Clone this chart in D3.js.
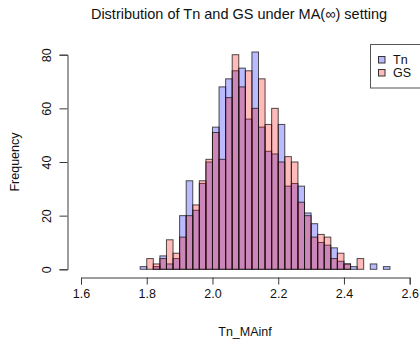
<!DOCTYPE html>
<html>
<head>
<meta charset="utf-8">
<script src="https://cdn.jsdelivr.net/npm/d3@7"></script>
<style>
  html, body { margin: 0; padding: 0; background: #fff; }
  svg { display: block; font-family: "Liberation Sans", Arial, sans-serif; }
</style>
</head>
<body>
<svg id="chart" width="420" height="345"></svg>
<script>
// Histogram bins (lower edges, width 0.02)
const binLower = [1.78, 1.80, 1.82, 1.84, 1.86, 1.88, 1.90, 1.92, 1.94, 1.96,
                  1.98, 2.00, 2.02, 2.04, 2.06, 2.08, 2.10, 2.12, 2.14, 2.16,
                  2.18, 2.20, 2.22, 2.24, 2.26, 2.28, 2.30, 2.32, 2.34, 2.36,
                  2.38, 2.40, 2.42, 2.44, 2.46, 2.48, 2.50, 2.52];
const binWidth = 0.02;

// Counts per bin
const tnCounts = [1, 0, 1, 5, 2, 4, 20, 33, 22, 32,
                  40, 53, 68, 71, 74, 75, 56, 81, 53, 44,
                  43, 54, 31, 32, 31, 21, 17, 10, 9, 8,
                  3, 2, 1, 0, 0, 2, 0, 1];
const gsCounts = [0, 4, 2, 4, 11, 6, 12, 20, 24, 33,
                  41, 51, 41, 64, 80, 68, 74, 60, 71, 54,
                  60, 40, 42, 40, 25, 20, 12, 13, 12, 4,
                  6, 2, 0, 4, 0, 0, 0, 0];

const xTicks = [1.6, 1.8, 2.0, 2.2, 2.4, 2.6];
const yTicks = [0, 20, 40, 60, 80];
const seriesNames = ["Tn", "GS"];
const seriesFill = ["rgba(0,0,255,0.27)", "rgba(255,0,0,0.27)"];

const svg = d3.select("#chart");
const x = d3.scaleLinear().domain([1.6, 2.6]).range([81, 409.7]);
const y = d3.scaleLinear().domain([0, 80]).range([269.3, 54.7]);

// Overlaid histograms: Tn first, GS on top
[tnCounts, gsCounts].forEach((counts, si) => {
  svg.append("g")
    .selectAll("rect")
    .data(binLower.map((b, i) => ({ b, c: counts[i] })))
    .join("rect")
    .attr("x", d => x(d.b))
    .attr("width", d => x(d.b + binWidth) - x(d.b))
    .attr("y", d => y(d.c))
    .attr("height", d => y(0) - y(d.c))
    .attr("fill", seriesFill[si])
    .attr("stroke", "rgba(20,20,20,0.75)")
    .attr("stroke-width", 1);
});

const axisColor = "#3a3a3a";

// X axis
const xAxis = svg.append("g").attr("transform", "translate(0,277.5)")
  .call(d3.axisBottom(x).tickValues(xTicks).tickFormat(d3.format(".1f")).tickSizeOuter(0).tickSize(7).tickPadding(5));
xAxis.select(".domain").attr("stroke", axisColor);
xAxis.selectAll(".tick line").attr("stroke", axisColor);
xAxis.selectAll("text").attr("font-size", 12.5).attr("fill", "#111")
  .attr("font-family", "Liberation Sans, Arial, sans-serif");

// Y axis
const yAxis = svg.append("g").attr("transform", "translate(67.5,0)")
  .call(d3.axisLeft(y).tickValues(yTicks).tickSizeOuter(0).tickSize(8).tickPadding(0));
yAxis.select(".domain").attr("stroke", axisColor);
yAxis.selectAll(".tick line").attr("stroke", axisColor);
yAxis.selectAll(".tick text")
  .attr("font-size", 12.5).attr("fill", "#111")
  .attr("font-family", "Liberation Sans, Arial, sans-serif")
  .attr("x", null).attr("dy", null)
  .attr("text-anchor", "middle")
  .attr("transform", "translate(-21,0) rotate(-90)")
  .attr("dy", "0.35em");

// Titles
svg.append("text")
  .attr("x", 239).attr("y", 19)
  .attr("text-anchor", "middle")
  .attr("font-size", 14.5).attr("fill", "#111")
  .text("Distribution of Tn and GS under MA(\u221E) setting");

svg.append("text")
  .attr("x", 245).attr("y", 336)
  .attr("text-anchor", "middle")
  .attr("font-size", 12.5).attr("fill", "#111")
  .text("Tn_MAinf");

svg.append("text")
  .attr("transform", "translate(19,162) rotate(-90)")
  .attr("text-anchor", "middle")
  .attr("font-size", 12.5).attr("fill", "#111")
  .text("Frequency");

// Legend
const lg = svg.append("g");
lg.append("rect")
  .attr("x", 370.5).attr("y", 44.5).attr("width", 60).attr("height", 43.5)
  .attr("fill", "#fff").attr("stroke", "#555");
seriesNames.forEach((name, i) => {
  lg.append("rect")
    .attr("x", 378.5).attr("y", 56.5 + i * 13).attr("width", 6.5).attr("height", 6.5)
    .attr("fill", seriesFill[i]).attr("stroke", "#333");
  lg.append("text")
    .attr("x", 393).attr("y", 64 + i * 13)
    .attr("font-size", 12.5).attr("fill", "#111")
    .text(name);
});
</script>
</body>
</html>
